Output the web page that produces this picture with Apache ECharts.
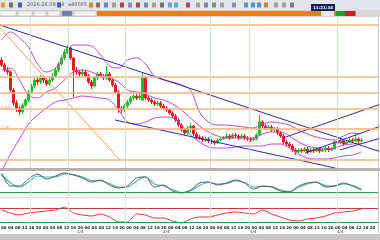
<!DOCTYPE html>
<html><head><meta charset="utf-8">
<script src="https://cdn.jsdelivr.net/npm/echarts@6/dist/echarts.min.js"></script>
<style>html,body{margin:0;padding:0;background:#fff}#c{width:380px;height:240px}</style>
</head><body><div id="c"></div>
<script>
// ---- data (price units; candles = [open, close, low, high]) ----
const categories = Array.from({length: 126}, (_, i) => 'H4-' + i);
const candles = [
[110,105,103,113],[105,100,98,107],[100,98,95,103],[98,80,78,100],[80,67,64,82],[67,62,58,70],[62,58,55,64],[58,65,56,67],[65,70,63,72],[70,78,68,80],
[78,84,76,86],[84,90,82,92],[90,88,85,93],[88,92,86,95],[92,90,87,94],[90,86,84,92],[86,90,84,93],[90,94,88,97],[94,100,92,103],[100,106,98,108],
[106,112,104,115],[112,118,110,121],[118,122,116,125],[122,112,110,124],[112,100,73,113],[100,98,95,103],[98,96,93,100],[96,98,94,101],[98,94,92,100],[94,88,86,96],
[88,84,81,90],[84,92,83,94],[92,96,90,98],[96,94,92,98],[94,92,90,96],[92,96,90,104],[96,90,88,98],[90,85,83,92],[85,78,76,87],[78,62,57,80],
[62,60,57,64],[60,64,58,66],[64,68,62,70],[68,72,66,74],[72,74,70,76],[74,72,70,76],[72,74,70,77],[70,92,69,98],[92,72,70,94],[72,70,68,74],
[70,68,66,72],[68,66,64,70],[66,67,64,69],[67,64,62,69],[64,62,60,66],[62,60,58,64],[60,57,55,62],[57,54,52,59],[54,50,48,56],[50,45,43,52],
[45,40,38,47],[40,37,35,42],[37,42,35,44],[42,44,37,47],[44,36,34,45],[36,33,31,38],[33,32,30,35],[32,30,28,34],[30,31,28,33],[31,29,27,33],
[29,28,26,31],[28,27,25,30],[27,30,26,32],[30,31,29,33],[31,32,30,34],[32,34,31,37],[34,32,30,36],[32,35,31,37],[35,34,32,37],[34,32,30,36],
[32,34,31,36],[34,32,30,36],[32,31,29,34],[31,30,28,33],[30,31,29,33],[31,35,30,37],[35,48,34,55],[48,44,42,50],[44,42,40,46],[42,43,40,45],
[43,40,38,45],[40,41,38,43],[41,37,35,43],[37,34,32,39],[34,28,26,36],[28,26,24,30],[26,24,22,28],[24,20,18,26],[20,18,15,22],[18,20,17,22],
[20,19,17,22],[19,21,18,23],[21,18,16,23],[18,20,17,22],[20,19,17,22],[19,21,18,23],[21,19,17,23],[19,20,18,22],[20,22,18,24],[22,20,18,24],
[20,21,19,23],[21,28,20,30],[28,27,25,31],[27,29,26,31],[29,26,24,31],[26,28,25,30],[28,30,27,32],[30,29,27,32],[29,31,28,37],[31,29,27,33],
[29,30,28,32]
];
// indicator sample positions (candle index)
const sampleIdx = [0,3,6,9,12,15,18,21,24,27,30,33,36,39,42,45,48,51,54,57,60,63,66,69,72,75,78,81,84,87,90,93,96,99,102,105,108,111,114,117,120];
const bbUpper = [130,138,132,123,106,98,102,114,125,125,124,115,104,102,110,112,106,94,90,88,85,80,58,48,45,45,44,43,42,46,48,47,45,40,36,33,31,30,34,37,36];
const bbMiddle = [100,102,90,75,72,78,82,90,98,100,98,94,92,88,80,78,76,72,70,66,60,52,44,38,34,32,32,32,32,36,38,38,34,28,24,22,21,22,25,26,27];
const bbLower = [-2,16,31,46,55,62,68,70,72,74,73,72,70,60,48,46,48,52,53,52,45,35,28,23,22,22,23,24,24,24,26,26,22,16,12,11,11,12,14,15,18];
const oscMain = [96,44,44,72,92,72,84,96,88,76,60,68,48,36,44,76,80,40,48,24,16,28,56,60,48,56,68,56,32,44,40,24,20,44,56,60,40,44,56,44,28];
const oscSignal = [90,56,40,60,84,80,80,92,90,80,66,64,54,40,40,64,80,52,44,30,18,24,46,58,52,54,64,58,40,42,42,28,22,38,52,58,46,44,52,46,32];
const rsi = [60,48,40,48,52,56,60,72,48,40,36,44,32,12,12,44,40,28,28,16,8,24,32,32,40,48,52,48,44,60,44,32,20,16,24,28,36,48,52,56,64];
const levels = [145,93,77,61,41,10];          // horizontal support/resistance
const oscLevel = 20, rsiHigh = 68, rsiLow = 12;
const sessionBreaks = [9.5,22.2,41.2,69.5,82.5,111.8];
const trendLines = [                           // [index, price] pairs
  [[-0.5,145],[126.5,18]],
  [[37.8,50],[111.2,2]],
  [[93.8,32],[126.5,66]],
  [[101.2,17],[126.5,44]],
  [[112.8,20],[126.5,32]]
];
const fibLine = [[-0.5,142],[39.5,10]];
const timeLabels = ['1/4','2/4','3/4','4/4'];
const clockText = '11:21:34';

const pairs = (vals) => vals.map((v, k) => [sampleIdx[k], v]);
const chart = echarts.init(document.getElementById('c'), null, {renderer: 'canvas'});
const vAxis = (g) => ({type:'value', gridIndex:g, min:-0.5, max:125.5, show:false});
const series = [];
series.push({type:'candlestick', xAxisIndex:0, yAxisIndex:0, data:candles, barWidth:2,
  itemStyle:{color:'#1fbf2a', color0:'#e02020', borderColor:'#1fbf2a', borderColor0:'#e02020', borderWidth:1}, z:2});
const bandStyle = {color:'#d040d0', width:1};
[bbUpper, bbMiddle, bbLower].forEach((b, k) => series.push({type:'line', xAxisIndex:1, yAxisIndex:0, data:pairs(b),
  smooth:0.35, symbol:'none', lineStyle:bandStyle, z:3,
  markLine: k === 0 ? {silent:true, symbol:'none', label:{show:false}, animation:false,
    data: levels.map(v => ({yAxis:v, lineStyle:{color:'#f8b27a', width:1.5, type:'solid'}}))
      .concat(sessionBreaks.map(x => ({xAxis:x, lineStyle:{color:'#c8e6c8', width:1, type:'solid'}})))} : undefined}));
trendLines.forEach(t => series.push({type:'line', xAxisIndex:1, yAxisIndex:0, data:t, symbol:'none',
  lineStyle:{color:'#2a2ab8', width:1}, z:4}));
series.push({type:'line', xAxisIndex:1, yAxisIndex:0, data:fibLine, symbol:'none', lineStyle:{color:'#f0a050', width:1}, z:4});
series.push({type:'line', xAxisIndex:2, yAxisIndex:1, data:pairs(oscSignal), symbol:'none', smooth:0.3,
  lineStyle:{color:'#3cc0b4', width:1.2}, z:3,
  markLine:{silent:true, symbol:'none', label:{show:false},
    data:[{yAxis:oscLevel, lineStyle:{color:'#2e9a3e', width:1, type:'solid'}}]
      .concat(sessionBreaks.map(x => ({xAxis:x, lineStyle:{color:'#d8ecd8', width:1, type:'solid'}})))}});
series.push({type:'line', xAxisIndex:2, yAxisIndex:1, data:pairs(oscMain), symbol:'none', smooth:0.3,
  lineStyle:{color:'#555555', width:1}, z:4});
series.push({type:'line', xAxisIndex:3, yAxisIndex:2, data:pairs(rsi), symbol:'none', smooth:0.2,
  lineStyle:{color:'#e03030', width:1}, z:4,
  markLine:{silent:true, symbol:'none', label:{show:false},
    data:[{yAxis:rsiHigh, lineStyle:{color:'#c04040', width:1, type:'solid'}},
          {yAxis:rsiLow, lineStyle:{color:'#2e9a3e', width:1, type:'solid'}}]
      .concat(sessionBreaks.map(x => ({xAxis:x, lineStyle:{color:'#d8ecd8', width:1, type:'solid'}})))}});

// decorative terminal chrome
const icons = [[1,'#e8a020'],[9,'#707070'],[18,'#4060a8'],[57,'#4060a8'],[89,'#c09040'],[96,'#8a7060'],[104,'#7088c0'],
 [112,'#a0a0a0'],[120,'#a04848'],[128,'#9090b8'],[136,'#a05050'],[144,'#7090b0'],[152,'#a0a0a0'],[160,'#707070'],
 [168,'#60a8d8'],[174,'#60a8d8'],[186,'#b04070'],[196,'#a0a0a0'],[204,'#7090b0'],[212,'#70a070'],[220,'#a0a0a0'],
 [232,'#8098b0'],[244,'#7090c0'],[251,'#5090d8'],[257,'#5090d8'],[264,'#b09040'],[274,'#a0a0a0'],[282,'#a0a0a0'],[290,'#808080']];
const graphic = [
  {type:'rect', shape:{x:0,y:0,width:380,height:10}, style:{fill:'#e3e6ec'}, silent:true},
  {type:'rect', shape:{x:0,y:10,width:380,height:7}, style:{fill:'#d6d6d6'}, silent:true},
  {type:'rect', shape:{x:97,y:11,width:283,height:5}, style:{fill:'#f07d0c'}, silent:true},
  {type:'text', x:27, y:2.5, style:{text:'2026.26.09 H4', font:'5px "DejaVu Sans"', fill:'#555'}},
  {type:'text', x:68, y:2.5, style:{text:'a40005', font:'5px "DejaVu Sans"', fill:'#555'}},
  {type:'rect', shape:{x:311,y:4,width:24,height:7}, style:{fill:'#142060'}, silent:true, z:10},
  {type:'text', x:323, y:7.5, z:11, style:{text:clockText, font:'bold 4px "DejaVu Sans"', fill:'#fff', align:'center', verticalAlign:'middle'}},
  {type:'rect', shape:{x:321,y:11,width:13,height:5}, style:{fill:'#e8e8e8'}},
  {type:'rect', shape:{x:336,y:11,width:9,height:5}, style:{fill:'#20a030'}},
  {type:'rect', shape:{x:345,y:11,width:10,height:5}, style:{fill:'#c82020'}},
  {type:'rect', shape:{x:356,y:11,width:24,height:5}, style:{fill:'#d8d8d8'}},
  {type:'rect', shape:{x:0,y:168,width:380,height:3}, style:{fill:'#bab1aa'}},
  {type:'line', shape:{x1:0,y1:197.5,x2:380,y2:197.5}, style:{stroke:'#ecd8d0', lineWidth:1}},
  {type:'line', shape:{x1:378.5,y1:17,x2:378.5,y2:233}, style:{stroke:'#c8c8c8', lineWidth:1}},
  {type:'text', x:1, y:226, style:{text:'00 04 08 12 16 20 00 04 08 12 16 20 00 04 08 12 16 20 00 04 08 12 16 20 00 04 08 12 16 20 00 04 08 12 16 20 00 04 08 12 16 20 00 04 08 12 16 20 00 04 08 12 16 20', font:'bold 4px "DejaVu Sans"', fill:'#222'}},
  {type:'rect', shape:{x:0,y:234,width:380,height:6}, style:{fill:'#c8c8c8'}},
  {type:'text', x:1, y:106, style:{text:'1.31', font:'4px "DejaVu Sans"', fill:'#f08030'}},
  {type:'text', x:1, y:126, style:{text:'1.30', font:'4px "DejaVu Sans"', fill:'#f08030'}}
];
icons.forEach(([x,c]) => graphic.push({type:'rect', shape:{x:x,y:2.5,width:4,height:5}, style:{fill:c}}));
[[0,'#fafafa',16],[18,'#f4f4f4',14],[34,'#f4f4f4',12],[48,'#f4f4f4',12],[62,'#6a7ab8',10],[74,'#f4f4f4',22]].forEach(([x,c,w]) =>
  graphic.push({type:'rect', shape:{x:x,y:11,width:w,height:5}, style:{fill:c, stroke:'#aaa', lineWidth:0.5}}));
[77,163,250,337].forEach((x,k) => graphic.push({type:'text', x:x, y:230, style:{text:timeLabels[k], font:'4px "DejaVu Sans"', fill:'#333'}}));

chart.setOption({
  animation:false, backgroundColor:'#ffffff',
  grid:[{left:0,top:17,width:378,height:151},{left:0,top:172,width:378,height:25},{left:0,top:201,width:378,height:24}],
  xAxis:[{type:'category', gridIndex:0, data:categories, show:false, boundaryGap:true}, vAxis(0), vAxis(1), vAxis(2)],
  yAxis:[{type:'value', gridIndex:0, min:2, max:153, show:false},
         {type:'value', gridIndex:1, min:0, max:100, show:false},
         {type:'value', gridIndex:2, min:0, max:96, show:false}],
  series: series,
  graphic: graphic
});
</script></body></html>
